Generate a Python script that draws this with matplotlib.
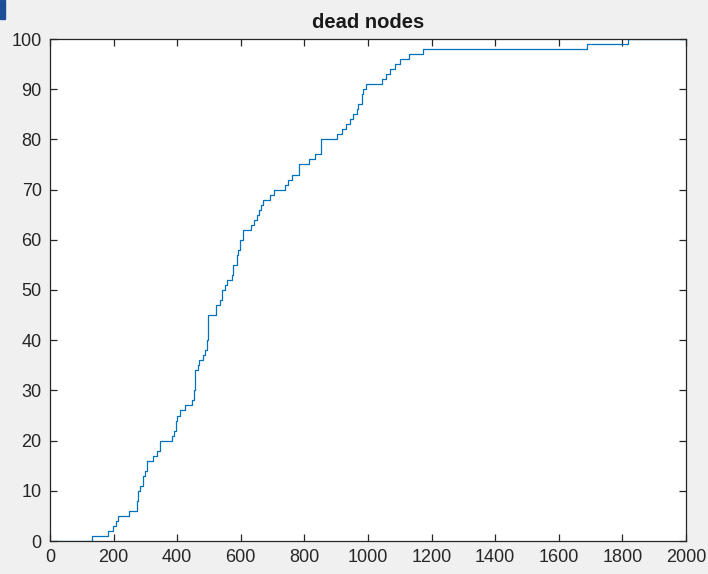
import matplotlib
matplotlib.use('Agg')
import matplotlib.pyplot as plt
from matplotlib.patches import Rectangle

# round at which the count of dead nodes steps up, and the new count
rounds = [0, 131, 183, 198, 206, 214, 249, 273, 278, 283, 291, 298, 304,
          325, 335, 346, 383, 390, 395, 400, 409, 425, 446, 453, 456, 465,
          469, 481, 487, 493, 497, 522, 535, 540, 550, 556, 571, 576, 587,
          592, 598, 608, 632, 641, 650, 657, 663, 670, 692, 705, 739, 748,
          760, 783, 815, 833, 852, 902, 917, 931, 943, 953, 964, 969, 980,
          985, 994, 1043, 1057, 1069, 1085, 1101, 1129, 1174, 1689, 1818, 2000]
dead = [0, 1, 2, 3, 4, 5, 6, 8, 10, 11, 13, 14, 16,
        17, 18, 20, 21, 22, 24, 25, 26, 27, 28, 30, 34, 35,
        36, 37, 38, 40, 45, 47, 48, 50, 51, 52, 53, 55, 57,
        58, 60, 62, 63, 64, 65, 66, 67, 68, 69, 70, 71, 72,
        73, 75, 76, 77, 80, 81, 82, 83, 84, 85, 86, 87, 89,
        90, 91, 92, 93, 94, 95, 96, 97, 98, 99, 100, 100]

plt.rcParams['font.family'] = ['Liberation Sans', 'DejaVu Sans']

fig = plt.figure(figsize=(7.08, 5.74), dpi=100, facecolor='#f0f0f0')
fig.patches.append(Rectangle((0, 1 - 19 / 574), 5 / 708, 19 / 574,
                             transform=fig.transFigure, color='#1f4e99'))
ax = fig.add_axes([50 / 708, 33 / 574, 636 / 708, 502 / 574])

ax.step(rounds, dead, where='post', color='#0072bd', linewidth=0.9)

ax.set_xlim(0, 2000)
ax.set_ylim(0, 100)
ax.set_xticks(range(0, 2001, 200))
ax.set_yticks(range(0, 101, 10))
ax.set_title('dead nodes', fontsize=14.5, fontweight='bold', color='#1a1a1a', pad=8)

edge = '#262626'
for s in ax.spines.values():
    s.set_color(edge)
    s.set_linewidth(0.9)
ax.tick_params(direction='in', top=True, right=True, length=5, width=0.9,
               colors=edge, labelsize=13, labelcolor='#262626', pad=6)

plt.savefig('out.png', dpi=100, facecolor=fig.get_facecolor())
